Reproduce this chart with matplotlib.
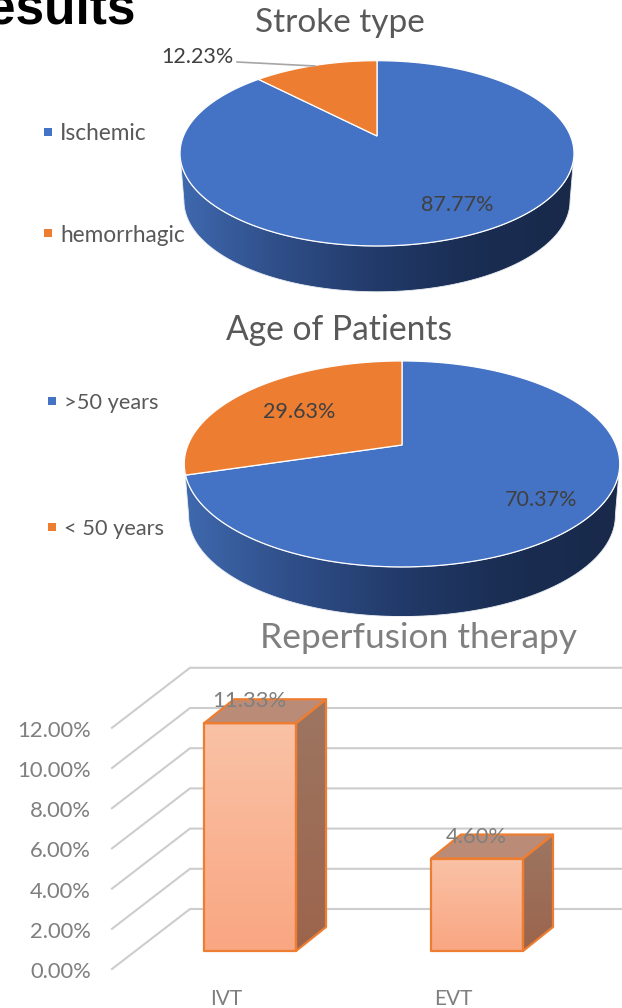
import numpy as np
import matplotlib
matplotlib.use('Agg')
import matplotlib.pyplot as plt
from matplotlib.patches import Polygon
from matplotlib.colors import LinearSegmentedColormap

# data
stroke_labels = ['Ischemic', 'hemorrhagic']
stroke_values = [87.77, 12.23]
age_labels = ['>50 years', '< 50 years']
age_values = [70.37, 29.63]
therapy_labels = ['IVT', 'EVT']
therapy_values = [11.33, 4.60]
therapy_ticks = [0, 2, 4, 6, 8, 10, 12]

BLUE = '#4472C4'
ORANGE = '#ED7D31'
DARK = '#595959'
LABEL = '#404040'
GREY = '#7F7F7F'
FONT = 'Lato'

fig = plt.figure(figsize=(6.22, 10.08), dpi=100)
ax = fig.add_axes([0, 0, 1, 1])
ax.set_xlim(0, 622)
ax.set_ylim(1008, 0)
ax.axis('off')


def project(turn, cx, cy, a, b, k):
    # turn = clockwise fraction from 12 o'clock, perspective disc
    t = 2 * np.pi * np.asarray(turn)
    u, v = np.sin(t), np.cos(t)
    w = 1 + k * v
    return a * u / w, -b * v / w


def gradient(poly, stops, horizontal=True, z=2):
    xy = poly.get_xy()
    cmap = LinearSegmentedColormap.from_list('g', stops)
    g = np.linspace(0, 1, 256)
    g = g.reshape(1, -1) if horizontal else g.reshape(-1, 1)
    im = ax.imshow(g, cmap=cmap, aspect='auto', zorder=z, origin='upper',
                   extent=(xy[:, 0].min(), xy[:, 0].max(), xy[:, 1].max(), xy[:, 1].min()))
    ax.add_patch(poly)
    im.set_clip_path(poly)


def pie3d(values, cx, cy, a, b, k, depth):
    turns = np.linspace(0, 1, 721)
    x, y = project(turns, cx, cy, a, b, k)
    # side wall, between the two tangent points of the rim
    left, right = np.argmin(x), np.argmax(x)
    lx, ly = x[right:left + 1], y[right:left + 1]
    wall = np.column_stack([np.r_[lx, lx[::-1] * 0.98] + cx,
                            np.r_[ly, ly[::-1] * 0.98 + depth] + cy])
    poly = Polygon(wall, closed=True, fc='none', ec='none', zorder=2)
    gradient(poly, ['#3F69AE', '#2F4E88', '#223A69', '#1A2D52', '#18294A'])
    ax.add_patch(Polygon(wall, closed=True, fc='none', ec='#E8ECF2', lw=0.6, zorder=3))

    start = 0
    for val, col in zip(values, [BLUE, ORANGE]):
        end = start + val / sum(values)
        tt = np.linspace(start, end, 400)
        sx, sy = project(tt, cx, cy, a, b, k)
        pts = np.column_stack([np.r_[cx, sx + cx], np.r_[cy, sy + cy]])
        ax.add_patch(Polygon(pts, closed=True, fc=col, ec='white', lw=0.9, zorder=4))
        start = end


def legend(labels, x, ys, size):
    for lab, col, y in zip(labels, [BLUE, ORANGE], ys):
        ax.scatter([x], [y], s=26, marker='s', color=col, lw=0, zorder=5)
        ax.text(x + 12, y + 2, lab, color=DARK, fontsize=size, family=FONT, va='center', ha='left')


# heading cut by the slide crop
ax.text(136, 24, 'Results', fontsize=37, fontweight='bold', family='Liberation Sans',
        color='black', ha='right', va='baseline')

# stroke type
ax.text(340, 23, 'Stroke type', color=DARK, fontsize=24, family=FONT, ha='center', va='center')
pie3d(stroke_values, 377, 136, 193.5, 89.4, 0.187, 48)
legend(stroke_labels, 48, [132, 233], 16.3)
ax.text(197, 57, f'{stroke_values[1]:.2f}%', color=LABEL, fontsize=15.5, family=FONT, ha='center', va='center')
ax.plot([237, 315], [62, 66], color='#A6A6A6', lw=1.2, zorder=5)
ax.text(457, 205, f'{stroke_values[0]:.2f}%', color=LABEL, fontsize=15.5, family=FONT, ha='center', va='center', zorder=6)

# age
ax.text(339, 330, 'Age of Patients', color=DARK, fontsize=24.2, family=FONT, ha='center', va='center')
pie3d(age_values, 402, 445, 214, 99.5, 0.184, 52)
legend(age_labels, 52, [401, 527], 15.7)
ax.text(541, 500, f'{age_values[0]:.2f}%', color=LABEL, fontsize=15.5, family=FONT, ha='center', va='center', zorder=6)
ax.text(299, 412, f'{age_values[1]:.2f}%', color=LABEL, fontsize=15.5, family=FONT, ha='center', va='center', zorder=6)

# reperfusion bars
ax.text(419, 638, 'Reperfusion therapy', color=GREY, fontsize=25.5, family=FONT, ha='center', va='center')

PX_PER_UNIT = 20.1
BASE_FRONT = 951
DX, DY = 30, 24


def val_y(v, base):
    return base - PX_PER_UNIT * np.asarray(v)


for tick in therapy_ticks:
    back = val_y(tick, 909)
    front = val_y(tick, 969)
    ax.plot([112, 190, 622], [front, back, back], color='#CDCDCD', lw=1.5, zorder=1)
    ax.text(91, front + 3, f'{tick:.2f}%', color=GREY, fontsize=15.8, family=FONT, ha='right', va='center')

bar_lefts = [204, 431]
bar_width = 92
for lab, val, x0 in zip(therapy_labels, therapy_values, bar_lefts):
    top = val_y(val, BASE_FRONT)
    x1 = x0 + bar_width
    front = Polygon([[x0, BASE_FRONT], [x1, BASE_FRONT], [x1, top], [x0, top]], closed=True, fc='none', ec='none')
    gradient(front, ['#FAC2A6', '#F9A682'], horizontal=False, z=3)
    side = Polygon([[x1, BASE_FRONT], [x1 + DX, BASE_FRONT - DY], [x1 + DX, top - DY], [x1, top]],
                   closed=True, fc='none', ec='none')
    gradient(side, ['#9C7662', '#9C644C'], horizontal=False, z=3)
    roof = Polygon([[x0, top], [x1, top], [x1 + DX, top - DY], [x0 + DX, top - DY]],
                   closed=True, fc='#BA8C78', ec='none', zorder=3)
    ax.add_patch(roof)
    for pts in ([[x0, BASE_FRONT], [x1, BASE_FRONT], [x1, top], [x0, top]],
                [[x1, BASE_FRONT], [x1 + DX, BASE_FRONT - DY], [x1 + DX, top - DY], [x1, top]],
                [[x0, top], [x1, top], [x1 + DX, top - DY], [x0 + DX, top - DY]]):
        ax.add_patch(Polygon(pts, closed=True, fc='none', ec=ORANGE, lw=1.6, zorder=4, joinstyle='round'))
    ax.text(x0 + 45, top - 22, f'{val:.2f}%', color=GREY, fontsize=15.8, family=FONT,
            ha='center', va='center', zorder=6)
    ax.text(x0 + 22, 999, lab, color=GREY, fontsize=15, family=FONT, ha='center', va='center')

ax.set_xlim(0, 622)
ax.set_ylim(1008, 0)
fig.savefig('out.png', dpi=100)
